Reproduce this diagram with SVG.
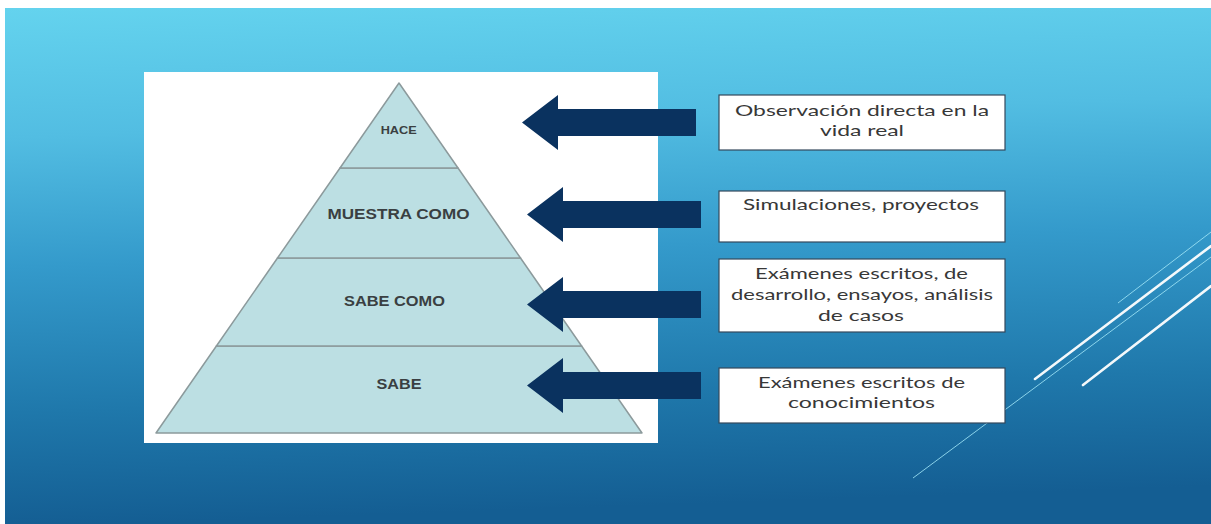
<svg xmlns="http://www.w3.org/2000/svg" width="1211" height="524" viewBox="0 0 1211 524">
<defs>
<linearGradient id="bg" x1="0" y1="0" x2="0.08" y2="1">
<stop offset="0" stop-color="#64d3ee"/>
<stop offset="0.25" stop-color="#52bde2"/>
<stop offset="0.5" stop-color="#349acb"/>
<stop offset="0.78" stop-color="#1f78ab"/>
<stop offset="1" stop-color="#145e93"/>
</linearGradient>
<path id="arrow" d="M0,0 L36,-27.5 L36,-13.5 L174,-13.5 L174,13.5 L36,13.5 L36,27.5 Z"/>
<style>
.lvl{fill:#bcdfe3;stroke:#8c9a9c;stroke-width:1.5;stroke-linejoin:round}
.lt{font-family:"Liberation Sans",Arial,sans-serif;font-weight:bold;fill:#3a3f42;text-anchor:middle}
.arr{fill:#0a325f}
.box{fill:#ffffff;stroke:#34495c;stroke-width:1.2}
.bt{font-family:"Lato","Liberation Sans",sans-serif;font-size:15px;fill:#383838;text-anchor:middle}
.thick{stroke:#ffffff;stroke-width:2.6;stroke-linecap:round;opacity:0.95}
.thin{stroke:#9fe4f6;stroke-width:1;opacity:0.85}
</style>
</defs>
<rect x="0" y="0" width="1211" height="524" fill="#ffffff"/>
<rect x="5" y="8" width="1206" height="516" fill="url(#bg)"/>
<g id="deco">
<line class="thick" x1="1035" y1="379" x2="1211" y2="246"/>
<line class="thick" x1="1083" y1="385" x2="1211" y2="286"/>
<line class="thin" x1="1118" y1="303" x2="1211" y2="232"/>
<line class="thin" x1="913" y1="478" x2="1211" y2="257"/>
</g>
<rect id="panel" x="144" y="72" width="514" height="371" fill="#ffffff"/>
<g id="pyramid">
<g id="level-sabe">
<polygon class="lvl" points="216.4,346 581.6,346 642,433 156,433"/>
<text class="lt" x="399" y="389" font-size="15" textLength="45" lengthAdjust="spacingAndGlyphs">SABE</text>
</g>
<g id="level-sabe-como">
<polygon class="lvl" points="277.5,258 520.5,258 581.6,346 216.4,346"/>
<text class="lt" x="394.5" y="306" font-size="15" textLength="101" lengthAdjust="spacingAndGlyphs">SABE COMO</text>
</g>
<g id="level-muestra-como">
<polygon class="lvl" points="340,168 458,168 520.5,258 277.5,258"/>
<text class="lt" x="398.5" y="219" font-size="15" textLength="142" lengthAdjust="spacingAndGlyphs">MUESTRA COMO</text>
</g>
<g id="level-hace">
<polygon class="lvl" points="399,83 458,168 340,168"/>
<text class="lt" x="398.7" y="134" font-size="11" textLength="36" lengthAdjust="spacingAndGlyphs">HACE</text>
</g>
</g>
<g id="connectors">
<use href="#arrow" class="arr" transform="translate(522,122.5)"/>
<use href="#arrow" class="arr" transform="translate(527,214.5)"/>
<use href="#arrow" class="arr" transform="translate(527,304.5)"/>
<use href="#arrow" class="arr" transform="translate(527,385.5)"/>
</g>
<g id="box-observacion">
<rect class="box" x="719" y="95" width="286" height="55"/>
<text class="bt" x="862" y="116" textLength="254" lengthAdjust="spacingAndGlyphs">Observación directa en la</text>
<text class="bt" x="862" y="136" textLength="84" lengthAdjust="spacingAndGlyphs">vida real</text>
</g>
<g id="box-simulaciones">
<rect class="box" x="719" y="191" width="286" height="51"/>
<text class="bt" x="861" y="210" textLength="236" lengthAdjust="spacingAndGlyphs">Simulaciones, proyectos</text>
</g>
<g id="box-examenes-desarrollo">
<rect class="box" x="719" y="259" width="286" height="73"/>
<text class="bt" x="861.5" y="279" textLength="213" lengthAdjust="spacingAndGlyphs">Exámenes escritos, de</text>
<text class="bt" x="862" y="300" textLength="262" lengthAdjust="spacingAndGlyphs">desarrollo, ensayos, análisis</text>
<text class="bt" x="861" y="321" textLength="86" lengthAdjust="spacingAndGlyphs">de casos</text>
</g>
<g id="box-examenes-conocimientos">
<rect class="box" x="719" y="368" width="286" height="55"/>
<text class="bt" x="861.5" y="388" textLength="207" lengthAdjust="spacingAndGlyphs">Exámenes escritos de</text>
<text class="bt" x="861.5" y="408" textLength="147" lengthAdjust="spacingAndGlyphs">conocimientos</text>
</g>
</svg>
